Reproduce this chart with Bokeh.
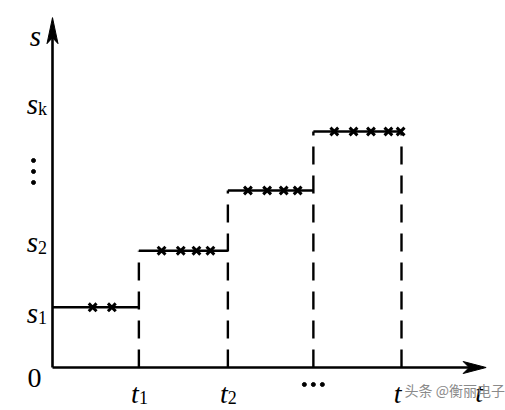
from bokeh.plotting import figure
from bokeh.models import Range1d
from bokeh.core.properties import value
from bokeh.embed import file_html
from bokeh.resources import INLINE

# ---- data (schematic units) ----
t_pos = [0.99, 2.01, 2.99, 4.0]          # t1, t2, ..., tk
levels = [1.02, 1.98, 3.0, 4.0]          # s1, s2, ..., step levels
crosses = [
    [0.46, 0.68],
    [1.25, 1.47, 1.65, 1.81],
    [2.24, 2.46, 2.65, 2.81],
    [3.23, 3.45, 3.65, 3.85, 3.99],
]
y_tick_main = ["s", "s", "s", "0"]
y_tick_sub = ["1", "2", "k", ""]
y_tick_at = [0.93, 2.12, 4.46, -0.17]
t_tick_sub = ["1", "2", "", ""]
axis_x_label = "t"
axis_y_label = "s"
watermark = "头条 @衡丽电子"

# pixel scale of the schematic (px per unit)
UX, UY = 87.25, 59.0
W, H = 505, 410
OX, OY = 52, 367          # where the origin sits in the picture
SERIF = value("Liberation Serif")

def dx(px):
    return px / UX

def dy(px):
    return px / UY

p = figure(width=W, height=H, output_backend="svg", toolbar_location=None,
           x_range=Range1d(-OX / UX, (W - OX) / UX),
           y_range=Range1d(-(H - OY) / UY, OY / UY),
           min_border=0)
p.axis.visible = False
p.grid.visible = False
p.outline_line_color = None
p.background_fill_color = "white"
p.border_fill_color = "white"

x_end = 4.97
y_end = 5.93

# axes lines
p.segment(x0=[0, 0], y0=[0, 0], x1=[x_end - dx(14), 0], y1=[0, y_end - dy(14)],
          line_color="black", line_width=2.6)
# arrow heads
p.patch([x_end, x_end - dx(23), x_end - dx(17), x_end - dx(23)],
        [0, dy(6), 0, -dy(6)], color="black")
p.patch([0, -dx(5.5), 0, dx(5.5)],
        [y_end, y_end - dy(26), y_end - dy(20), y_end - dy(26)], color="black")

# step horizontals
starts = [0] + t_pos[:-1]
p.segment(x0=starts, y0=levels, x1=t_pos, y1=levels, line_color="black", line_width=2.6)

# dashed verticals
tops = levels[1:] + [levels[-1]]
p.segment(x0=t_pos, y0=[0] * 4, x1=t_pos, y1=tops, line_color="black",
          line_width=2.4, line_dash="18 11")

# crosses
cx, cy = [], []
for lv, xs in zip(levels, crosses):
    cx += xs
    cy += [lv] * len(xs)
p.scatter(cx, cy, marker="x", size=11, line_color="black", line_width=3)

# y tick labels
lab_x = dx(-14.5)
p.text(x=[lab_x] * 3, y=y_tick_at[:3], text=y_tick_main[:3], text_font=SERIF,
       text_font_style="italic", text_font_size="29px", text_align="right",
       text_baseline="alphabetic", text_color="black")
p.text(x=[lab_x] * 3, y=[v - dy(5) for v in y_tick_at[:3]], text=y_tick_sub[:3],
       text_font=SERIF, text_font_size="18px", text_align="left",
       text_baseline="alphabetic", text_color="black")
p.text(x=[dx(-11)], y=[y_tick_at[3]], text=[y_tick_main[3]], text_font=SERIF,
       text_font_size="28px", text_align="right", text_baseline="alphabetic",
       text_color="black")
# vertical ellipsis
p.scatter([dx(-19)] * 3, [dy(207), dy(196), dy(185)], size=4, color="black")
# y axis label
p.text(x=[dx(-11.5)], y=[dy(332)], text=[axis_y_label], text_font=SERIF,
       text_font_style="italic", text_font_size="29px", text_align="right",
       text_baseline="alphabetic", text_color="black")

# t tick labels
tl = [t_pos[0], t_pos[1], t_pos[3]]
p.text(x=tl, y=[-dy(26)] * 3, text=["t", "t", "t"], text_font=SERIF,
       text_font_style="italic", text_font_size="28px", text_align="right",
       text_baseline="alphabetic", text_color="black")
p.text(x=t_pos[:2], y=[-dy(30)] * 2, text=t_tick_sub[:2], text_font=SERIF,
       text_font_size="18px", text_align="left", text_baseline="alphabetic",
       text_color="black")
p.scatter([t_pos[2] - dx(9), t_pos[2], t_pos[2] + dx(9)], [-dy(17)] * 3,
          size=4, color="black")
# x axis label
p.text(x=[x_end - dx(3)], y=[-dy(25)], text=[axis_x_label], text_font=SERIF,
       text_font_style="italic", text_font_size="28px", text_align="right",
       text_baseline="alphabetic", text_color="black")

# watermark
p.text(x=[t_pos[3] + dx(3)], y=[-dy(22)], text=[watermark],
       text_font=value("Noto Sans CJK SC"), text_font_size="14px",
       text_align="left", text_baseline="alphabetic", text_color="#8a8a8a")

open("out.html", "w").write(file_html(p, INLINE))
